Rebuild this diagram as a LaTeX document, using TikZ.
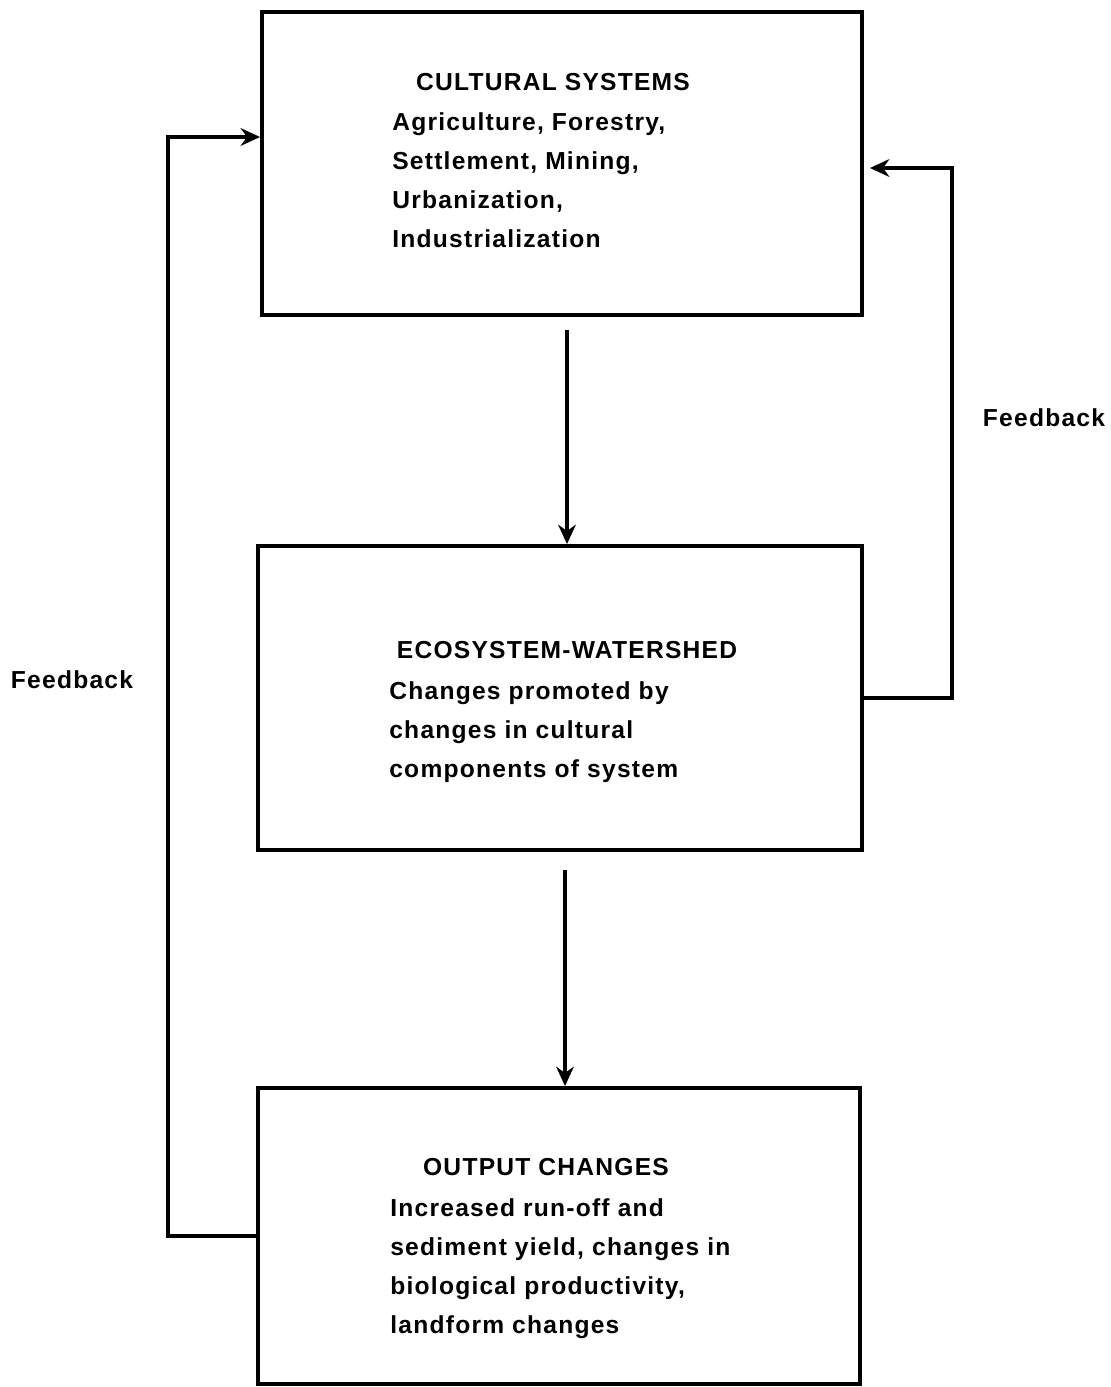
\documentclass[tikz,border=0pt]{standalone}
\usepackage{fontspec}
\newfontfamily\boxfont[LetterSpace=5]{Liberation Sans}
\usetikzlibrary{positioning, arrows.meta}
\tikzset{
x=0.02cm, y=-0.02cm, % one unit is one pixel of the scan, y goes down
sysbox/.style={draw, line width=2.2pt, inner sep=0pt}, % the three boxes
title/.style={font=\boxfont\bfseries\fontsize{14}{22.2}\selectfont, inner sep=0pt}, % box headings
body/.style={font=\boxfont\bfseries\fontsize{14}{22.2}\selectfont, align=left, anchor=north west, inner sep=0pt}, % text under the headings
flow/.style={line width=2.2pt, -{Stealth[length=11pt,width=10pt]}}, % arrows
fb/.style={font=\boxfont\bfseries\fontsize{14}{17}\selectfont, inner sep=0pt}, % feedback labels
}
\begin{document}
\begin{tikzpicture}
    \useasboundingbox (0,0) rectangle (1110,1387);

    \node[sysbox, minimum width=600*0.02cm, minimum height=303*0.02cm] (cultural) at (562,163.5) {};
    \node[sysbox, minimum width=604*0.02cm, minimum height=304*0.02cm] (eco) at (560,698) {};
    \node[sysbox, minimum width=602*0.02cm, minimum height=296*0.02cm] (output) at (559,1236) {};

    \node[title] (culturalT) at (553,82) {CULTURAL SYSTEMS};
    \node[body] (culturalB) at (392,112) {Agriculture, Forestry,\\Settlement, Mining,\\Urbanization,\\Industrialization};

    \node[title] (ecoT) at (567,650) {ECOSYSTEM-WATERSHED};
    \node[body] (ecoB) at (389,681) {Changes promoted by\\changes in cultural\\components of system};

    \node[title] (outputT) at (546,1167) {OUTPUT CHANGES};
    \node[body] (outputB) at (390,1198) {Increased run-off and\\sediment yield, changes in\\biological productivity,\\landform changes};

    \node[fb] (fbL) at (72,680) {Feedback};
    \node[fb] (fbR) at (1044,418) {Feedback};

    \coordinate (a1) at (567,330);
    \coordinate (a2) at (565,870);
    \coordinate (fbl) at (168,137);
    \coordinate (fbr) at (952,168);

  \draw[flow] (a1) -- (a1 |- eco.north);
  \draw[flow] (a2) -- (a2 |- output.north);
  \draw[flow] (output.west) -| (fbl) -- (cultural.west |- fbl);
  \draw[flow] (eco.east) -| (fbr) -- ([xshift=0.12cm]cultural.east |- fbr);

\end{tikzpicture}
\end{document}
